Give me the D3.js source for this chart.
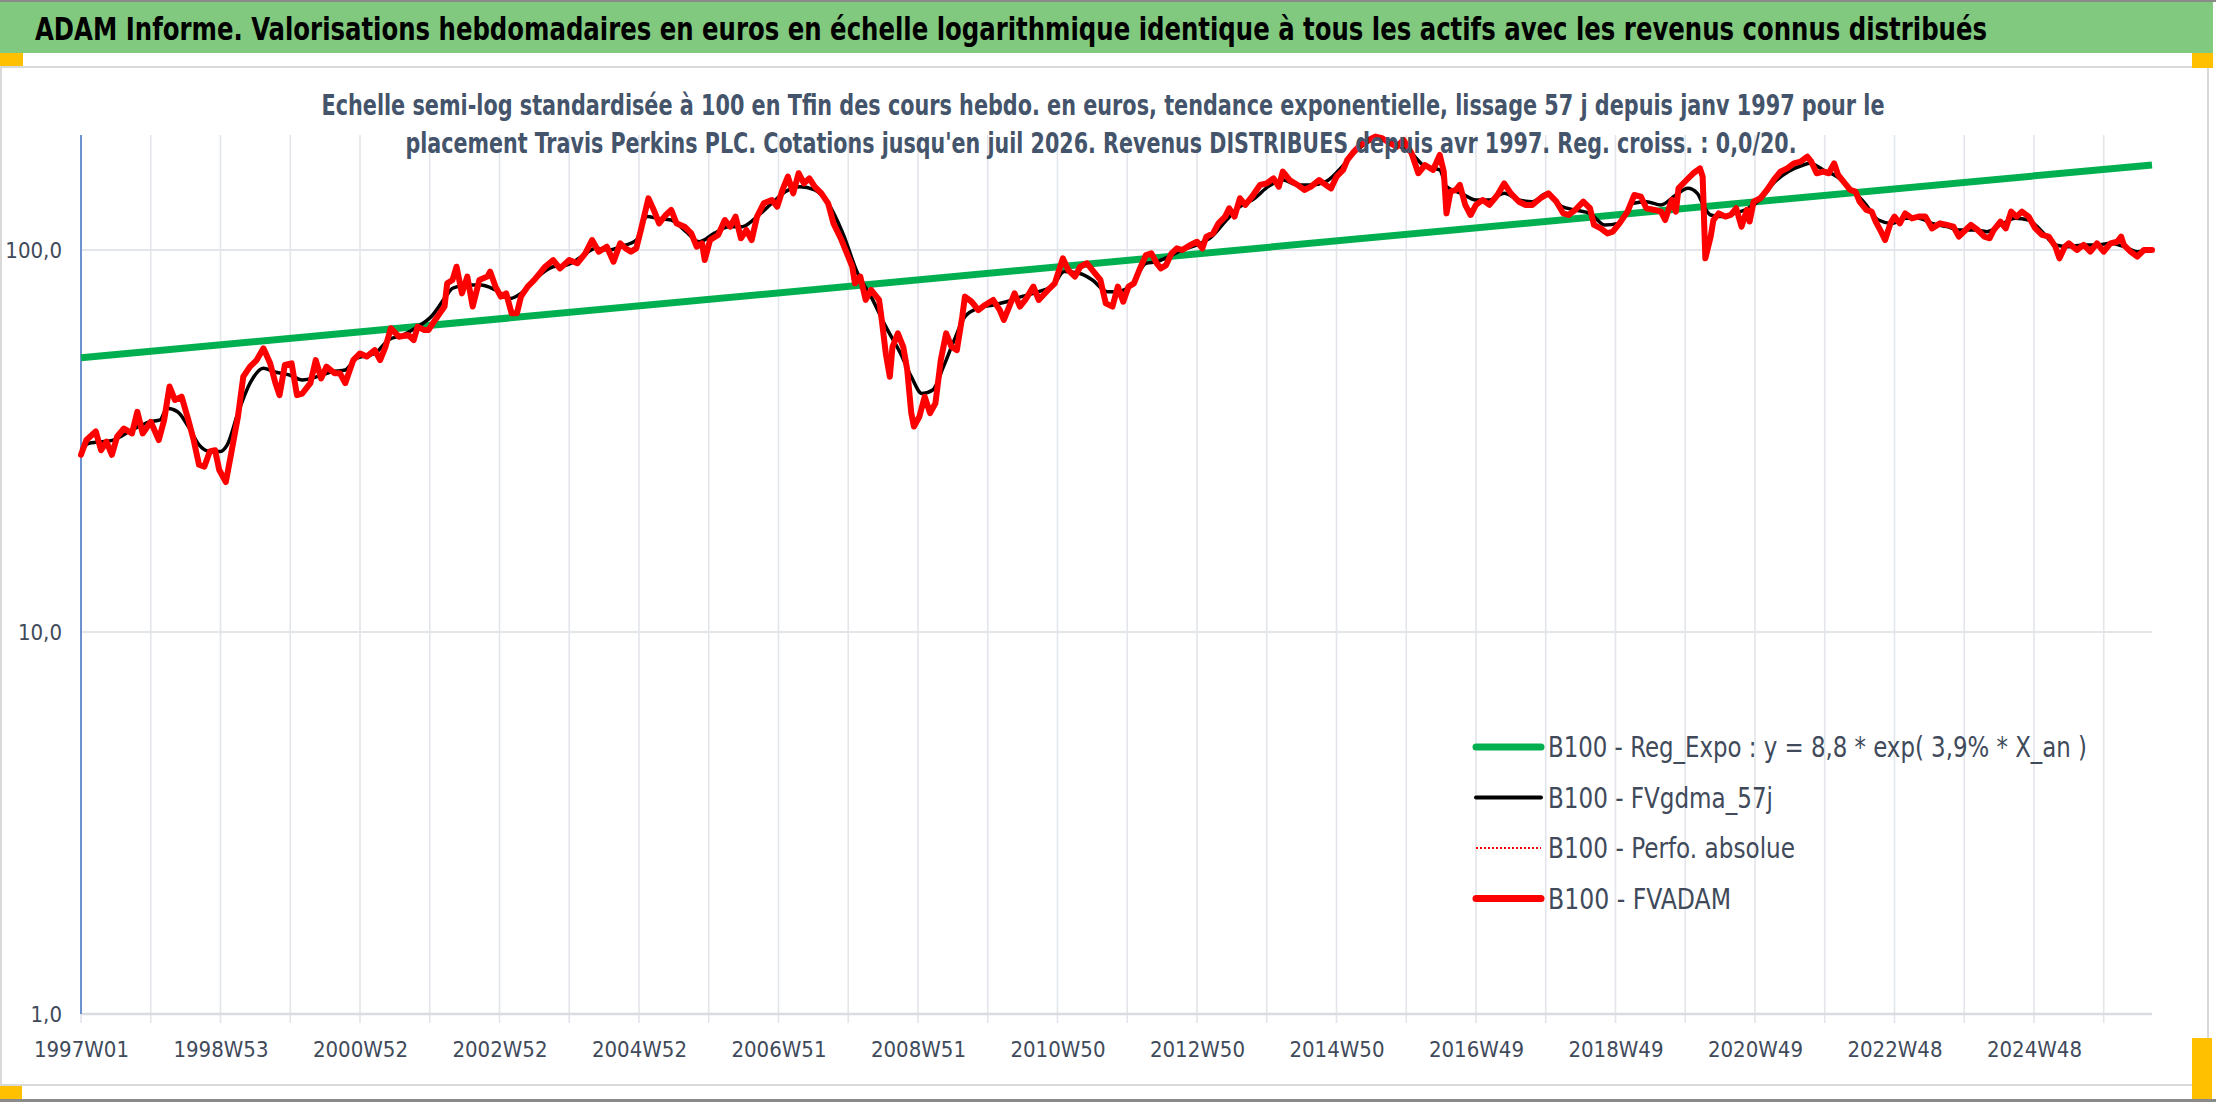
<!DOCTYPE html>
<html>
<head>
<meta charset="utf-8">
<script src="https://cdn.jsdelivr.net/npm/d3@7"></script>
<style>
  body { margin: 0; background: #fff; }
  svg text { font-family: 'Liberation Sans Narrow', 'DejaVu Sans Condensed', sans-serif; }
</style>
</head>
<body>
<div id="chart"></div>
<script>
// x = week number counted from 1997W01, y = base 100 value
var weekLabels = ["1997W01", "1998W53", "2000W52", "2002W52", "2004W52", "2006W51", "2008W51", "2010W50",
                  "2012W50", "2014W50", "2016W49", "2018W49", "2020W49", "2022W48", "2024W48"];
var lastWeek = 1544;
var yTicks = [1, 10, 100];

var regExpo = [[0, 52.2], [1544, 167]];

var fvgdma = [
  [0,30.0],[6,31.2],[24,31.8],[38,33.8],[51,35.5],[59,35.9],[64,38.5],[72,37.7],[80,34.5],[88,30.9],[96,29.7],[104,29.7],
  [109,30.9],[117,37.4],[126,44.8],[136,49.0],[144,48.0],[155,47.1],[165,45.7],[176,46.6],[187,48.0],[197,48.5],[205,52.0],
  [219,53.6],[229,58.1],[240,59.9],[251,63.0],[261,66.9],[272,75.5],[277,79.4],[288,81.0],[298,81.0],[309,78.6],[320,74.7],
  [328,77.0],[338,83.5],[352,90.4],[362,91.3],[373,96.0],[384,101.0],[394,100.0],[402,102.0],[414,106.2],[422,122.3],
  [430,121.0],[440,119.8],[451,111.7],[461,105.1],[472,110.5],[483,115.1],[493,115.1],[504,122.3],[515,132.5],[525,142.1],
  [536,146.5],[547,143.6],[557,132.5],[568,110.5],[579,86.9],[589,75.5],[600,63.0],[611,53.6],[619,46.6],[627,42.1],
  [635,43.0],[643,49.5],[651,58.1],[659,66.9],[669,70.4],[680,71.8],[690,73.2],[701,75.5],[714,77.8],[725,81.0],[733,87.8],
  [744,86.9],[754,83.5],[765,77.8],[773,77.8],[784,81.8],[794,92.3],[802,93.2],[811,96.1],[821,100.0],[832,103.1],
  [843,108.4],[853,118.7],[864,129.8],[875,136.6],[885,146.5],[896,152.5],[907,148.0],[917,148.0],[928,151.0],[938,162.0],
  [949,179.1],[960,192.1],[970,196.1],[981,188.3],[992,179.1],[1002,165.3],[1013,162.0],[1018,146.5],[1029,140.7],
  [1040,135.2],[1050,135.2],[1061,140.7],[1072,135.2],[1082,133.8],[1093,140.7],[1104,130.0],[1114,127.3],[1125,124.7],
  [1136,116.3],[1146,117.4],[1157,132.5],[1167,133.8],[1178,131.2],[1189,139.3],[1198,145.0],[1205,140.7],[1210,129.8],
  [1215,123.5],[1223,122.3],[1233,124.7],[1243,128.6],[1253,136.6],[1263,151.0],[1273,160.4],[1284,166.9],[1289,168.6],
  [1299,162.0],[1309,155.6],[1319,145.0],[1330,132.5],[1340,119.8],[1350,117.4],[1360,121.0],[1370,121.0],[1380,117.4],
  [1391,115.1],[1401,112.8],[1411,112.8],[1421,111.7],[1431,116.3],[1442,121.0],[1452,119.8],[1462,111.7],[1472,103.1],
  [1482,102.0],[1493,103.1],[1503,103.1],[1513,104.1],[1523,102.0],[1533,99.0],[1544,100.0]
];

var fvadam = [
  [0,29.1],[4,31.8],[11,33.5],[15,29.9],[19,31.5],[23,29.1],[27,32.5],[32,34.1],[38,33.1],[42,37.7],[46,33.1],[52,35.5],
  [58,31.8],[62,35.9],[66,43.9],[70,40.5],[75,41.3],[80,35.9],[84,31.8],[88,27.4],[92,27.1],[96,29.7],[100,29.9],[103,26.6],
  [108,24.7],[112,29.4],[117,36.6],[121,46.6],[126,49.5],[131,51.5],[136,55.3],[141,50.5],[145,44.8],[148,41.7],[152,50.0],
  [157,50.5],[161,41.7],[165,42.1],[171,44.8],[175,51.5],[179,46.1],[183,49.5],[189,47.6],[193,47.6],[197,44.8],[203,51.5],
  [208,53.6],[213,52.6],[219,54.7],[223,51.5],[227,55.8],[231,62.4],[237,59.3],[244,59.9],[248,58.1],[251,63.0],[256,61.7],
  [259,61.7],[264,65.6],[271,71.1],[273,81.8],[277,83.5],[280,90.4],[284,77.0],[288,85.2],[292,71.1],[297,83.5],[303,85.2],
  [305,87.8],[309,80.2],[313,75.5],[317,77.0],[321,68.3],[325,68.3],[328,75.5],[333,80.2],[338,83.5],[342,86.9],[346,90.4],
  [352,94.1],[357,89.5],[364,94.1],[370,92.3],[376,98.0],[381,106.2],[386,99.0],[392,102.0],[397,93.2],[402,104.1],
  [406,101.0],[410,99.0],[414,101.0],[418,115.1],[423,136.5],[427,127.3],[431,117.4],[436,123.5],[440,127.3],[444,117.4],
  [450,115.1],[455,110.5],[459,102.0],[463,104.1],[465,94.1],[469,106.2],[475,109.5],[480,119.8],[484,115.1],[488,122.3],
  [492,107.3],[496,112.8],[500,106.2],[504,122.3],[509,132.5],[515,135.2],[519,129.8],[523,143.6],[527,155.6],[531,140.7],
  [535,158.8],[539,149.4],[543,154.0],[547,146.5],[552,140.7],[557,132.5],[561,117.4],[567,106.2],[571,98.0],[575,90.4],
  [577,81.8],[581,85.2],[585,74.0],[589,78.6],[595,74.0],[597,65.6],[600,53.6],[603,46.6],[605,55.8],[609,60.5],[613,55.8],
  [616,48.5],[619,37.4],[621,34.5],[625,36.6],[629,41.3],[633,37.4],[637,39.7],[641,51.5],[645,60.5],[649,55.8],[653,54.7],
  [657,66.9],[659,75.5],[664,73.2],[669,69.6],[674,71.8],[680,74.0],[685,69.6],[688,65.6],[692,71.1],[696,77.0],[700,71.1],
  [704,74.0],[710,80.2],[714,74.0],[721,78.6],[726,81.8],[732,95.1],[736,88.6],[741,85.2],[745,90.4],[750,92.3],[756,86.9],
  [760,83.5],[764,72.5],[769,71.1],[773,80.2],[777,73.2],[781,80.2],[785,81.8],[789,88.6],[794,97.0],[798,98.0],[802,92.3],
  [805,89.5],[809,91.3],[813,98.0],[817,101.0],[821,100.0],[827,103.1],[832,105.1],[836,101.0],[839,108.4],[844,110.5],
  [848,117.4],[853,122.3],[856,128.6],[860,122.3],[864,136.6],[868,131.2],[873,137.9],[879,148.0],[884,149.4],[889,154.0],
  [893,146.5],[896,160.4],[901,152.5],[907,148.0],[912,143.6],[917,146.5],[923,152.5],[928,148.0],[932,145.0],[936,155.6],
  [941,162.0],[944,172.0],[949,180.9],[954,188.3],[960,194.1],[965,198.1],[970,196.1],[976,190.2],[981,186.4],[986,194.1],
  [992,179.1],[997,158.8],[1002,166.9],[1008,162.0],[1013,177.3],[1016,160.4],[1018,124.7],[1021,142.1],[1025,143.6],
  [1028,148.0],[1032,131.2],[1036,123.5],[1040,131.2],[1045,135.2],[1050,131.2],[1056,139.3],[1061,149.4],[1066,140.7],
  [1072,133.8],[1077,131.2],[1082,131.2],[1088,136.6],[1094,140.7],[1100,133.8],[1105,124.7],[1109,123.5],[1114,127.3],
  [1120,133.8],[1125,128.6],[1128,116.3],[1133,113.9],[1138,110.5],[1142,111.7],[1147,117.4],[1153,126.0],[1158,139.3],
  [1163,137.9],[1167,128.6],[1173,127.3],[1178,126.0],[1181,119.8],[1186,135.2],[1189,126.0],[1191,145.0],[1197,152.5],
  [1202,158.8],[1207,163.6],[1209,155.6],[1211,95.1],[1215,108.4],[1217,119.8],[1221,124.7],[1226,122.3],[1230,123.5],
  [1234,128.6],[1238,115.1],[1242,127.3],[1244,118.7],[1247,133.8],[1252,136.6],[1257,143.6],[1262,152.5],[1267,160.4],
  [1272,163.6],[1277,168.6],[1282,170.3],[1287,175.5],[1290,170.3],[1294,158.8],[1299,160.4],[1303,158.8],[1307,168.6],
  [1310,157.2],[1314,151.0],[1319,143.6],[1323,142.1],[1326,133.8],[1331,127.3],[1335,126.0],[1338,118.7],[1342,111.7],
  [1345,106.2],[1349,117.4],[1352,122.3],[1356,117.4],[1360,124.7],[1365,121.0],[1370,122.3],[1375,122.3],[1380,113.9],
  [1386,117.4],[1391,116.3],[1396,115.1],[1400,108.4],[1405,112.8],[1409,116.3],[1414,112.8],[1419,108.4],[1423,107.3],
  [1426,112.8],[1431,118.7],[1435,113.9],[1439,126.0],[1443,122.3],[1447,126.0],[1452,122.3],[1457,113.9],[1462,109.5],
  [1467,108.4],[1472,102.0],[1475,95.1],[1479,102.0],[1482,104.1],[1488,100.0],[1493,103.1],[1498,99.0],[1503,104.1],
  [1508,99.0],[1513,104.1],[1518,105.1],[1521,108.4],[1523,103.1],[1528,99.0],[1533,96.1],[1538,100.0],[1544,100.0]
];

var legendNames = ["B100 - Reg_Expo : y = 8,8 * exp( 3,9% *  X_an )", "B100 - FVgdma_57j", "B100 - Perfo. absolue", "B100 - FVADAM"];
var legendWidths = [539, 225, 247, 183];

var titleText = "ADAM Informe. Valorisations hebdomadaires en euros en échelle logarithmique identique à tous les actifs avec les revenus connus distribués";
var subTitle1 = "Echelle semi-log standardisée à 100 en Tfin des cours hebdo. en euros, tendance exponentielle, lissage 57 j depuis janv 1997 pour le";
var subTitle2 = "placement Travis Perkins PLC. Cotations jusqu'en juil 2026. Revenus DISTRIBUES depuis avr 1997. Reg. croiss. : 0,0/20.";

var W = 2216, H = 1102;
var plotLeft = 81, plotRight = 2152, plotTop = 135, plotBottom = 1014;

var svg = d3.select("#chart").append("svg")
  .attr("width", W).attr("height", H);

// page frame
svg.append("rect").attr("x", 0).attr("y", 0).attr("width", W).attr("height", H).attr("fill", "#fff");
svg.append("rect").attr("x", 0).attr("y", 0).attr("width", W).attr("height", 2).attr("fill", "#8a8a8a");
svg.append("rect").attr("x", 0).attr("y", 2).attr("width", 2213).attr("height", 51).attr("fill", "#80c97f");
svg.append("rect").attr("x", 0).attr("y", 1099).attr("width", W).attr("height", 3).attr("fill", "#8a8a8a");
svg.append("rect").attr("x", 1).attr("y", 67).attr("width", 2207).attr("height", 1018)
  .attr("fill", "#fff").attr("stroke", "#d9d9d9").attr("stroke-width", 2);

// selection handles
var handles = [[0, 53, 23, 13], [2192, 53, 21, 15], [0, 1086, 22, 13], [2192, 1038, 20, 61]];
svg.selectAll(".handle").data(handles).enter().append("rect")
  .attr("class", "handle")
  .attr("x", function(d) { return d[0]; })
  .attr("y", function(d) { return d[1]; })
  .attr("width", function(d) { return d[2]; })
  .attr("height", function(d) { return d[3]; })
  .attr("fill", "#ffc000");

svg.append("text")
  .attr("x", 35).attr("y", 40)
  .attr("textLength", 1952).attr("lengthAdjust", "spacingAndGlyphs")
  .style("font-size", "32px").style("font-weight", "bold").style("fill", "#000")
  .text(titleText);

var x = d3.scaleLinear().domain([0, lastWeek]).range([plotLeft, plotRight]);
var y = d3.scaleLog().domain([1, 200]).range([plotBottom, plotTop]);

// grid
var gridWeeks = d3.range(0, lastWeek + 1, 52);
svg.append("g").selectAll("line").data(gridWeeks).enter().append("line")
  .attr("x1", function(d) { return x(d); })
  .attr("x2", function(d) { return x(d); })
  .attr("y1", plotTop).attr("y2", plotBottom + 9)
  .attr("stroke", "#e2e5ea").attr("stroke-width", 1.6);

svg.append("g").selectAll("line").data(yTicks).enter().append("line")
  .attr("x1", plotLeft).attr("x2", plotRight)
  .attr("y1", function(d) { return y(d); })
  .attr("y2", function(d) { return y(d); })
  .attr("stroke", function(d) { return d == 1 ? "#d9dce1" : "#e2e5ea"; })
  .attr("stroke-width", function(d) { return d == 1 ? 2.5 : 1.8; });

svg.append("line")
  .attr("x1", plotLeft).attr("x2", plotLeft).attr("y1", plotTop).attr("y2", plotBottom)
  .attr("stroke", "#4472c4").attr("stroke-width", 1.5);

// axes
var yAxis = d3.axisLeft(y).tickValues(yTicks).tickSize(0).tickPadding(19)
  .tickFormat(function(d) { return d3.format(".1f")(d).replace(".", ","); });
var gy = svg.append("g").attr("transform", "translate(" + plotLeft + ",0)").call(yAxis);
gy.select(".domain").remove();
gy.selectAll("text").style("font-size", "22px").style("fill", "#404a5a").style("font-family", null);

var xAxis = d3.axisBottom(x).tickValues(d3.range(0, 1457, 104)).tickSize(0).tickPadding(27)
  .tickFormat(function(d, i) { return weekLabels[i]; });
var gx = svg.append("g").attr("transform", "translate(0," + plotBottom + ")").call(xAxis);
gx.select(".domain").remove();
gx.selectAll("text").style("font-size", "22px").style("fill", "#404a5a").style("font-family", null);

// series
var line = d3.line()
  .x(function(d) { return x(d[0]); })
  .y(function(d) { return y(d[1]); });

svg.append("path").datum(regExpo).attr("d", line)
  .attr("fill", "none").attr("stroke", "#00b050").attr("stroke-width", 7);

svg.append("path").datum(fvgdma).attr("d", line.curve(d3.curveMonotoneX))
  .attr("fill", "none").attr("stroke", "#000").attr("stroke-width", 3.5).attr("stroke-linejoin", "round");

line.curve(d3.curveLinear);
svg.append("path").datum(fvadam).attr("d", line)
  .attr("fill", "none").attr("stroke", "#ff0000").attr("stroke-width", 1.5).attr("stroke-dasharray", "2,2");

svg.append("path").datum(fvadam).attr("d", line)
  .attr("fill", "none").attr("stroke", "#ff0000").attr("stroke-width", 6)
  .attr("stroke-linejoin", "round").attr("stroke-linecap", "round");

// subtitle (drawn over plot like the chart title)
svg.append("text")
  .attr("x", 1103).attr("y", 115).attr("text-anchor", "middle")
  .attr("textLength", 1563).attr("lengthAdjust", "spacingAndGlyphs")
  .style("font-size", "28px").style("font-weight", "bold").style("fill", "#44546a")
  .text(subTitle1);
svg.append("text")
  .attr("x", 1101).attr("y", 153).attr("text-anchor", "middle")
  .attr("textLength", 1391).attr("lengthAdjust", "spacingAndGlyphs")
  .style("font-size", "28px").style("font-weight", "bold").style("fill", "#44546a")
  .text(subTitle2);

// legend
var legendStyle = [
  {color: "#00b050", width: 7, dash: null},
  {color: "#000", width: 4, dash: null},
  {color: "#ff0000", width: 2, dash: "2,2"},
  {color: "#ff0000", width: 7, dash: null}
];
var legend = svg.append("g").attr("transform", "translate(1476,747)");
var item = legend.selectAll("g").data(legendNames).enter().append("g")
  .attr("transform", function(d, i) { return "translate(0," + (i * 50.5) + ")"; });
item.append("line")
  .attr("x1", 0).attr("x2", 65).attr("y1", 0).attr("y2", 0)
  .attr("stroke", function(d, i) { return legendStyle[i].color; })
  .attr("stroke-width", function(d, i) { return legendStyle[i].width; })
  .attr("stroke-dasharray", function(d, i) { return legendStyle[i].dash; })
  .attr("stroke-linecap", function(d, i) { return legendStyle[i].dash ? "butt" : "round"; });
item.append("text")
  .attr("x", 72).attr("y", 10)
  .attr("textLength", function(d, i) { return legendWidths[i]; })
  .attr("lengthAdjust", "spacingAndGlyphs")
  .style("font-size", "29px").style("fill", "#404a5a")
  .text(function(d) { return d; });
</script>
</body>
</html>
